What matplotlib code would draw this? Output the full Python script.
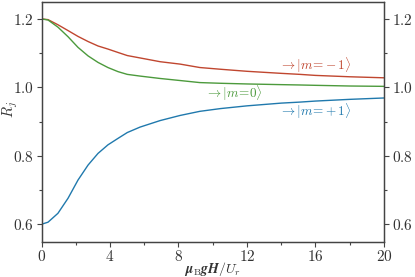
import matplotlib
matplotlib.use("Agg")
import matplotlib.pyplot as plt
from matplotlib.ticker import FixedLocator, FuncFormatter

plt.rcParams['mathtext.fontset'] = 'cm'
plt.rcParams['font.family'] = ['DejaVu Serif']

x = [0, 0.38, 0.96, 1.55, 2.13, 2.72, 3.30, 3.88, 4.47, 5.01, 5.76, 6.93,
     8.10, 9.25, 10.45, 12, 14, 15.1, 16, 18, 20]
r_minus = [1.200, 1.198, 1.183, 1.166, 1.149, 1.134, 1.121, 1.112, 1.102, 1.093,
           1.086, 1.075, 1.068, 1.058, 1.053, 1.047, 1.041, 1.038, 1.035, 1.031, 1.028]
r_zero = [1.200, 1.197, 1.176, 1.148, 1.117, 1.092, 1.073, 1.058, 1.046, 1.038,
          1.033, 1.026, 1.020, 1.014, 1.012, 1.010, 1.008, 1.007, 1.006, 1.004, 1.003]
r_plus = [0.600, 0.606, 0.632, 0.676, 0.729, 0.773, 0.807, 0.832, 0.851, 0.868,
          0.884, 0.903, 0.918, 0.930, 0.938, 0.946, 0.954, 0.957, 0.960, 0.965, 0.969]

labels = [r'$\rightarrow|m\!=\!-1\rangle$', r'$\rightarrow|m\!=\!0\rangle$', r'$\rightarrow|m\!=\!+1\rangle$']
colors = ['#c0462f', '#4c9a3c', '#2079ad']

xticks = [0, 4, 8, 12, 16, 20]
xminor = [2, 6, 10, 14, 18]
yticks = [0.6, 0.8, 1.0, 1.2]
yminor = [0.7, 0.9, 1.1]

fig = plt.figure(figsize=(4.15, 2.77), dpi=100)
ax = fig.add_axes([0.1, 0.1274, 0.825, 0.866])

ax.plot(x, r_minus, color=colors[0], lw=1.0)
ax.plot(x, r_zero, color=colors[1], lw=1.0)
ax.plot(x, r_plus, color=colors[2], lw=1.0)

ax.text(13.9, 1.064, labels[0], color=colors[0], fontsize=9.5, va='center', ha='left')
ax.text(9.55, 0.983, labels[1], color=colors[1], fontsize=9.5, va='center', ha='left')
ax.text(13.9, 0.930, labels[2], color=colors[2], fontsize=9.5, va='center', ha='left')

ax.set_xlim(0, 20)
ax.set_ylim(0.549, 1.25)

sc = '#444444'
ax.xaxis.set_major_locator(FixedLocator(xticks))
ax.xaxis.set_minor_locator(FixedLocator(xminor))
ax.yaxis.set_major_locator(FixedLocator(yticks))
ax.yaxis.set_minor_locator(FixedLocator(yminor))
ax.xaxis.set_major_formatter(FuncFormatter(lambda v, p: r'$%d$' % v))
ax.yaxis.set_major_formatter(FuncFormatter(lambda v, p: r'$%.1f$' % v))

for s in ax.spines.values():
    s.set_color(sc)
    s.set_linewidth(0.9)
ax.tick_params(which='both', direction='out', colors=sc, labelcolor='#333333', labelsize=11, width=0.8, pad=2)
ax.tick_params(which='major', length=3.5)
ax.tick_params(which='minor', length=2.5)

ax2 = ax.twinx()
ax2.set_ylim(ax.get_ylim())
ax2.yaxis.set_major_locator(FixedLocator(yticks))
ax2.yaxis.set_minor_locator(FixedLocator(yminor))
ax2.yaxis.set_major_formatter(FuncFormatter(lambda v, p: r'$%.1f$' % v if abs(v - 1.0) > 1e-9 else r'$\mathbf{1.0}$'))
ax2.tick_params(which='both', direction='out', colors=sc, labelcolor='#333333', labelsize=11, width=0.8, pad=2)
ax2.tick_params(which='major', length=3.5)
ax2.tick_params(which='minor', length=2.5)
for s in ax2.spines.values():
    s.set_color(sc)
    s.set_linewidth(0.9)
for t in ax2.yaxis.get_major_ticks():
    if abs(t.get_loc() - 1.0) < 1e-9:
        t.tick2line.set_markersize(6)
        t.tick2line.set_markeredgewidth(1.8)
        t.tick2line.set_color('#222222')
        t.label2.set_color('#111111')

ax.set_xlabel(r'$\boldsymbol{\mu}_{\mathrm{B}}\boldsymbol{gH/U_r}$', fontsize=10, color='#333333')
ax.xaxis.set_label_coords(0.5, -0.078)
ax.set_ylabel(r'$\boldsymbol{R_j}$', fontsize=10.5, color='#333333')
ax.yaxis.set_label_coords(-0.062, 0.55)

fig.savefig('out.png', dpi=100)
